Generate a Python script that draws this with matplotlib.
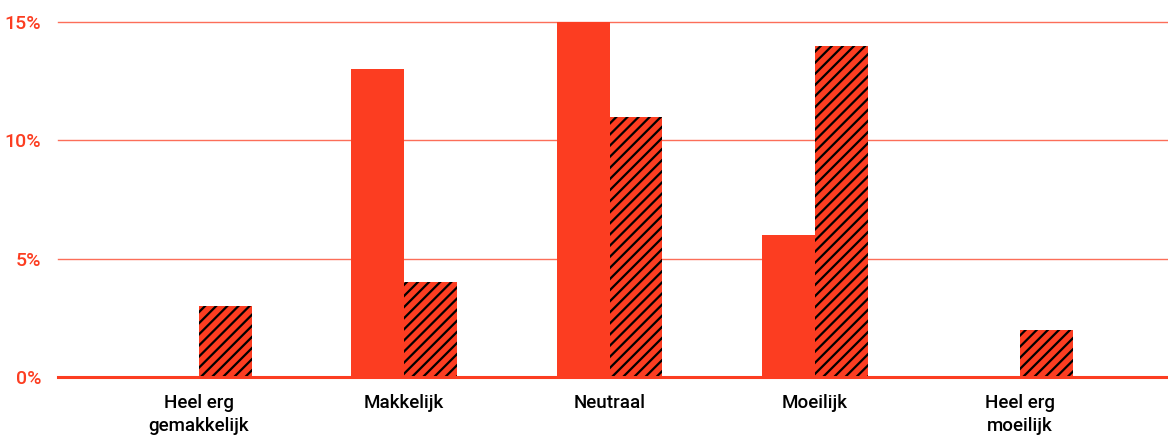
import numpy as np
import matplotlib
matplotlib.use("Agg")
import matplotlib.pyplot as plt

# data
categorieen = ["Heel erg\ngemakkelijk", "Makkelijk", "Neutraal", "Moeilijk", "Heel erg\nmoeilijk"]
reeks_a = [0, 13, 15, 6, 0]      # effen balken
reeks_b = [3, 4, 11, 14, 2]      # gearceerde balken
y_ticks = [0, 5, 10, 15]

ROOD = "#fc3d21"

plt.rcParams["font.family"] = ["Roboto", "Liberation Sans", "DejaVu Sans"]
plt.rcParams["hatch.linewidth"] = 1.6

fig = plt.figure(figsize=(11.68, 4.37), dpi=100)
ax = fig.add_axes([58 / 1168, 60 / 437, 1110 / 1168, 355 / 437])

x = np.arange(len(categorieen))
w = 0.258
ax.bar(x - w / 2, reeks_a, width=w, color=ROOD, linewidth=0, zorder=3)
ax.bar(x + w / 2, reeks_b, width=w, color=ROOD, edgecolor="black",
       hatch="///", linewidth=0, zorder=3)

ax.set_xlim(-0.686, 4.72)
ax.set_ylim(0, 15)
ax.set_yticks(y_ticks)
ax.set_yticklabels([f"{v}%" for v in y_ticks], color=ROOD, fontsize=14,
                   fontweight="medium")
ax.set_xticks(x)
ax.set_xticklabels(categorieen, fontsize=13.5, color="black", linespacing=1.35,
                   fontweight="medium")
ax.tick_params(axis="both", length=0)
ax.tick_params(axis="y", pad=12)
ax.tick_params(axis="x", pad=12)

for v in y_ticks[1:]:
    ax.axhline(v, color=ROOD, alpha=0.75, linewidth=1, zorder=1, clip_on=False)
ax.axhline(0, color=ROOD, linewidth=2.2, zorder=4, clip_on=False)

for s in ax.spines.values():
    s.set_visible(False)

fig.savefig("out.png", dpi=100)
